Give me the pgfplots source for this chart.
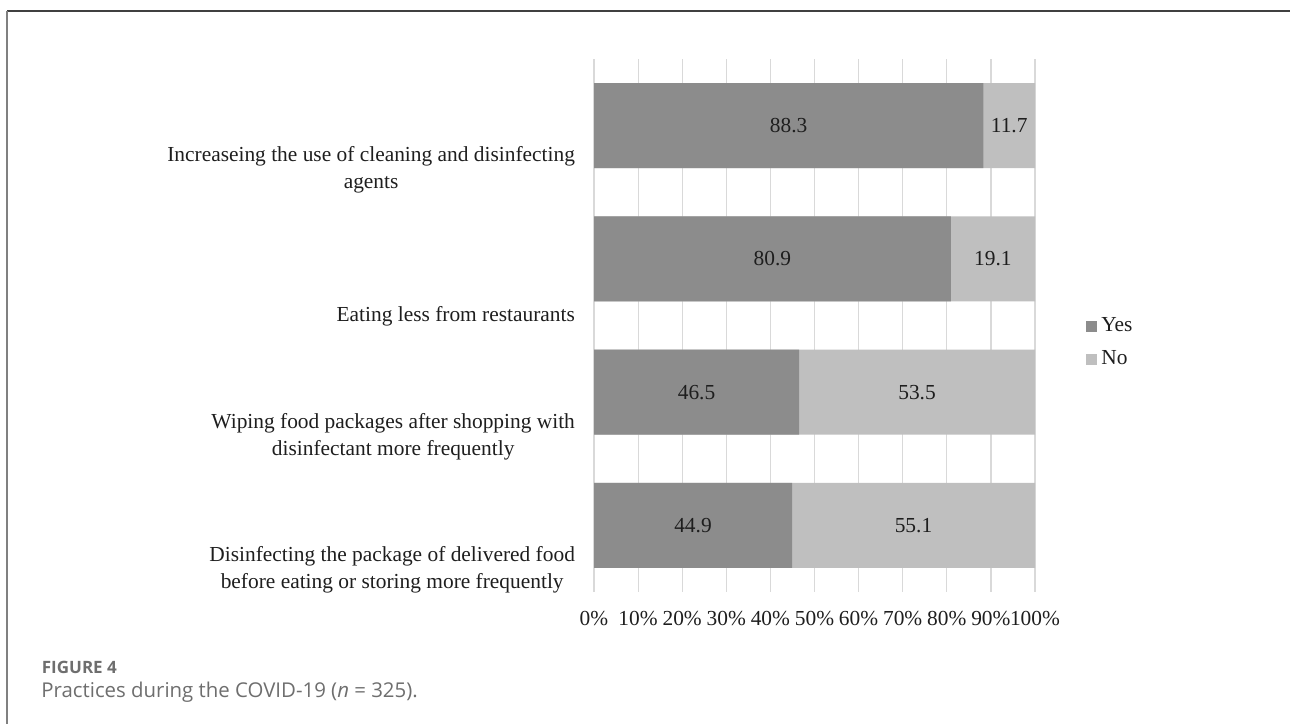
\documentclass[border=0pt]{standalone}
\usepackage{pgfplots}
\pgfplotsset{compat=1.18}
\usepackage{pgfplotstable}
\usepackage{fontspec}
\setmainfont{Liberation Serif}
\newfontfamily\capfont{Open Sans}
\definecolor{yescol}{HTML}{8C8C8C}
\definecolor{nocol}{HTML}{BFBFBF}
\definecolor{gridcol}{HTML}{D9D9D9}
\definecolor{capgray}{HTML}{6E6E6E}
\definecolor{txt}{HTML}{1E1E1E}
\pgfplotstableread{
idx Yes No
1 88.3 11.7
2 80.9 19.1
3 46.5 53.5
4 44.9 55.1
}\datatable
\newcommand{\chartfont}{\fontsize{10.7}{13.5}\selectfont}
\begin{document}
\begin{tikzpicture}
\useasboundingbox (0,0) rectangle (645pt,-362pt);
\draw[black!75, line width=0.75pt] (645pt,-5.5pt) -- (3.5pt,-5.5pt);
\draw[black!50, line width=1pt] (3.5pt,-5.5pt) -- (3.5pt,-362pt);
\begin{axis}[
  at={(297pt,-296pt)}, anchor=south west,
  scale only axis, width=220.5pt, height=266.5pt,
  xmin=0, xmax=100, ymin=0.5, ymax=4.5, y dir=reverse,
  xtick={0,10,...,100},
  xticklabel={\pgfmathprintnumber[assume math mode=true]{\tick}\%},
  ytick={1,2,3,4},
  yticklabels={
    {Increaseing the use of cleaning and disinfecting\\agents},
    {\phantom{X}\\Eating less from restaurants},
    {Wiping food packages after shopping with\\disinfectant more frequently},
    {Disinfecting the package of delivered food\\before eating or storing more frequently}},
  yticklabel style={align=center, anchor=east, xshift=-6pt, yshift=-22.25pt},
  xticklabel style={yshift=-6pt},
  every tick label/.append style={font=\chartfont, text=txt},
  xmajorgrids, ymajorgrids=false,
  grid style={gridcol, line width=0.6pt},
  axis line style={draw=none},
  major tick length=0pt,
  tick style={draw=none},
  reverse legend,
  legend style={at={(1.1156,0.468)}, anchor=west, draw=none, fill=none,
    font=\chartfont, text=txt, inner sep=0pt, row sep=4pt,
    /tikz/every odd column/.append style={column sep=0pt}},
  legend cell align=left,
  legend image code/.code={\fill[#1] (0pt,-2.75pt) rectangle (5.5pt,2.75pt);},
]
\addplot[xbar, bar width=42.5pt, bar shift=0pt, fill=nocol, draw=none]
  table[x expr=\thisrow{Yes}+\thisrow{No}, y=idx] {\datatable};
\addlegendentry{No}
\addplot[xbar, bar width=42.5pt, bar shift=0pt, fill=yescol, draw=none]
  table[x=Yes, y=idx] {\datatable};
\addlegendentry{Yes}
\addplot[draw=none, mark=none, forget plot, point meta=explicit,
  nodes near coords={\pgfmathprintnumber[assume math mode=true, fixed, precision=1, fixed zerofill]{\pgfplotspointmeta}},
  every node near coord/.append style={anchor=center, font=\chartfont, text=txt}]
  table[x expr=\thisrow{Yes}/2, y=idx, meta=Yes] {\datatable};
\addplot[draw=none, mark=none, forget plot, point meta=explicit,
  nodes near coords={\pgfmathprintnumber[assume math mode=true, fixed, precision=1, fixed zerofill]{\pgfplotspointmeta}},
  every node near coord/.append style={anchor=center, font=\chartfont, text=txt}]
  table[x expr=\thisrow{Yes}+\thisrow{No}/2, y=idx, meta=No] {\datatable};
\end{axis}
\node[anchor=base west, inner sep=0pt, text=capgray, font=\capfont\bfseries\fontsize{8.5}{10}\selectfont] at (20.75pt,-336.5pt) {FIGURE 4};
\node[anchor=base west, inner sep=0pt, text=capgray, font=\capfont\fontsize{10.2}{12}\selectfont] at (20.5pt,-348.5pt) {Practices during the COVID-19 (\textit{n} = 325).};
\end{tikzpicture}
\end{document}
